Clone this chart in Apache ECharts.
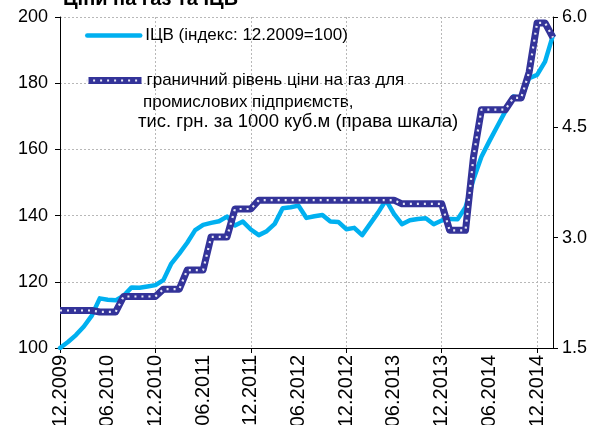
<!DOCTYPE html>
<html>
<head>
<meta charset="utf-8">
<script src="https://cdn.jsdelivr.net/npm/echarts@6/dist/echarts.min.js"></script>
<style>
  html, body { margin: 0; padding: 0; background: #fff; }
  #chart { width: 597px; height: 425px; }
</style>
</head>
<body>
<div id="chart"></div>
<script>
// місяці 12.2009 - 02.2015
const months = [
  "12.2009",
  "01.2010", "02.2010", "03.2010", "04.2010", "05.2010", "06.2010",
  "07.2010", "08.2010", "09.2010", "10.2010", "11.2010", "12.2010",
  "01.2011", "02.2011", "03.2011", "04.2011", "05.2011", "06.2011",
  "07.2011", "08.2011", "09.2011", "10.2011", "11.2011", "12.2011",
  "01.2012", "02.2012", "03.2012", "04.2012", "05.2012", "06.2012",
  "07.2012", "08.2012", "09.2012", "10.2012", "11.2012", "12.2012",
  "01.2013", "02.2013", "03.2013", "04.2013", "05.2013", "06.2013",
  "07.2013", "08.2013", "09.2013", "10.2013", "11.2013", "12.2013",
  "01.2014", "02.2014", "03.2014", "04.2014", "05.2014", "06.2014",
  "07.2014", "08.2014", "09.2014", "10.2014", "11.2014", "12.2014",
  "01.2015", "02.2015"
];

// ІЦВ, 12.2009 = 100 (ліва шкала)
const icvIndex = [
  100.0,
  101.8, 103.9, 106.5, 109.8, 115.0, 114.6, 114.4, 115.8, 118.3, 118.2, 118.6, 119.0,
  120.5, 125.5, 128.5, 131.8, 135.6, 137.2, 137.8, 138.3, 139.7, 137.0, 138.2, 135.8,
  134.1, 135.3, 137.5, 142.2, 142.5, 143.0, 139.3, 139.8, 140.2, 138.2, 138.1, 135.9,
  136.3, 134.1, 137.5, 140.9, 144.7, 140.5, 137.4, 138.6, 139.0, 139.2, 137.4, 138.5,
  139.0, 138.9, 142.5, 151.0, 157.8, 162.5, 167.0, 171.5, 176.0, 175.5, 181.5, 182.5,
  186.5, 194.5
];

// граничний рівень ціни на газ, тис. грн за 1000 куб.м (права шкала)
const gasPrice = [
  2.01,
  2.01, 2.01, 2.01, 2.01, 1.99, 1.99, 1.99, 2.20, 2.20, 2.20, 2.20, 2.20,
  2.30, 2.30, 2.30, 2.56, 2.56, 2.56, 3.01, 3.01, 3.01, 3.39, 3.39, 3.39,
  3.51, 3.51, 3.51, 3.51, 3.51, 3.51, 3.51, 3.51, 3.51, 3.51, 3.51, 3.51,
  3.51, 3.51, 3.51, 3.51, 3.51, 3.51, 3.46, 3.46, 3.46, 3.46, 3.46, 3.46,
  3.10, 3.10, 3.10, 4.10, 4.74, 4.74, 4.74, 4.74, 4.90, 4.90, 5.25, 5.92,
  5.92, 5.72
];

const icvName = "ІЦВ (індекс: 12.2009=100)";
const gasName = "граничний рівень ціни на газ для";
const gasLine2 = "промислових підприємств,";
const gasLine3 = "тис. грн. за 1000 куб.м (права шкала)";

const FONT = "Liberation Sans, Arial, sans-serif";

const chart = echarts.init(document.getElementById("chart"));

const legendBase = {
  orient: "vertical",
  left: 85,
  padding: 0,
  itemWidth: 53,
  itemHeight: 20,
  lineStyle: { width: "inherit" },
  itemStyle: { color: "rgba(0,0,0,0)", borderWidth: 0 },
  selectedMode: false,
  textStyle: { fontFamily: FONT, fontSize: 17, color: "#000" }
};

const option = {
  animation: false,
  title: {
    text: "Ціни на газ та ІЦВ",
    left: 63,
    top: -11,
    padding: 0,
    textStyle: { fontFamily: FONT, fontSize: 20, fontWeight: "bold", color: "#000" }
  },
  grid: {
    left: 60, right: 44, top: 17, bottom: 77,
    containLabel: false,
    outerBoundsMode: "none"
  },
  legend: [
    Object.assign({}, legendBase, { top: 27, data: [icvName] }),
    Object.assign({}, legendBase, { top: 72, data: [gasName] }),
    // білі крапки поверх лінії газу в легенді
    Object.assign({}, legendBase, {
      top: 72,
      data: ["gasDots"],
      textStyle: { fontFamily: FONT, fontSize: 17, color: "rgba(0,0,0,0)" }
    })
  ],
  graphic: [
    {
      type: "text",
      left: 143,
      top: 94,
      style: { text: gasLine2, font: "17px " + FONT, fill: "#000" }
    },
    {
      type: "text",
      left: 138,
      top: 112,
      style: { text: gasLine3, font: "18.5px " + FONT, fill: "#000" }
    }
  ],
  xAxis: {
    type: "category",
    data: months,
    boundaryGap: false,
    axisLine: { lineStyle: { color: "#000", width: 1 } },
    axisTick: { interval: 11, length: 5, lineStyle: { color: "#000" } },
    axisLabel: {
      interval: 5,
      rotate: 90,
      margin: 7,
      fontFamily: FONT,
      fontSize: 20,
      color: "#000"
    },
    splitLine: {
      show: true,
      interval: 11,
      lineStyle: { color: "#b8b8b8", type: [2, 2], width: 1 }
    }
  },
  yAxis: [
    {
      type: "value",
      min: 100,
      max: 200,
      interval: 20,
      axisLine: { show: true, lineStyle: { color: "#000" } },
      axisTick: { show: true, length: 5, lineStyle: { color: "#000" } },
      axisLabel: { margin: 12, fontFamily: FONT, fontSize: 18, color: "#000" },
      splitLine: { show: true, lineStyle: { color: "#b8b8b8", type: [2, 2], width: 1 } }
    },
    {
      type: "value",
      position: "right",
      min: 1.5,
      max: 6,
      interval: 1.5,
      axisLine: { show: true, lineStyle: { color: "#000" } },
      axisTick: { show: true, length: 5, lineStyle: { color: "#000" } },
      axisLabel: {
        margin: 9,
        fontFamily: FONT,
        fontSize: 18,
        color: "#000",
        formatter: (v) => v.toFixed(1)
      },
      splitLine: { show: false }
    }
  ],
  series: [
    {
      name: icvName,
      type: "line",
      yAxisIndex: 0,
      data: icvIndex,
      symbol: "none",
      z: 2,
      lineStyle: { color: "#00B0F0", width: 4.5, cap: "round", join: "round" },
      itemStyle: { color: "#00B0F0" }
    },
    {
      name: gasName,
      type: "line",
      yAxisIndex: 1,
      data: gasPrice,
      symbol: "none",
      z: 3,
      lineStyle: { color: "#333399", width: 7, join: "round" },
      itemStyle: { color: "#333399" }
    },
    {
      name: "gasDots",
      type: "line",
      yAxisIndex: 1,
      data: gasPrice,
      symbol: "none",
      silent: true,
      z: 4,
      lineStyle: { color: "#e8e8f6", width: 2.2, type: [2, 5] },
      itemStyle: { color: "#e8e8f6" }
    }
  ]
};

chart.setOption(option);
</script>
</body>
</html>
